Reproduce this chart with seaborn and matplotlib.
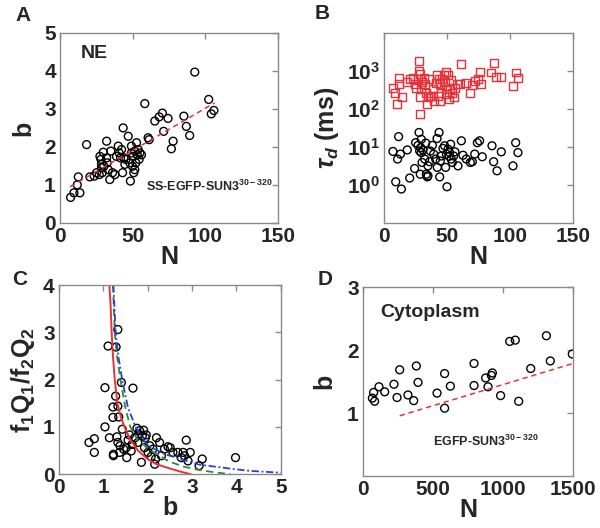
import numpy as np
import pandas as pd
import matplotlib
matplotlib.use("Agg")
import matplotlib.pyplot as plt
import seaborn as sns
from matplotlib.ticker import FixedLocator, NullLocator

# Panel A: NE, b vs N
ne_n = [7.3, 9.6, 13.7, 11.9, 12.6, 18.3, 20.6, 23.6, 25.2, 27.0, 27.5, 28.2, 28.6, 28.6, 29.1,
        29.8, 30.2, 32.1, 32.1, 32.5, 33.2, 34.3, 35.0, 36.2, 37.8, 38.9, 40.1, 40.8, 41.7, 42.4,
        43.1, 43.5, 44.0, 44.7, 45.4, 47.0, 48.1, 48.5, 49.2, 49.2, 49.9, 50.4, 50.8, 51.5, 51.5,
        52.2, 52.7, 53.2, 53.8, 54.5, 55.0, 56.1, 58.4, 60.7, 61.4, 65.3, 68.3, 70.5, 71.4, 74.4,
        76.7, 77.9, 85.3, 87.0, 89.3, 92.8, 102.4, 104.2, 106.0]
ne_b = [0.67, 0.79, 0.79, 1.00, 1.21, 2.06, 1.21, 1.23, 1.32, 1.27, 1.75, 1.67, 1.54, 1.45, 1.32,
        1.86, 1.49, 2.15, 1.71, 1.58, 1.40, 1.14, 1.89, 1.32, 1.27, 1.75, 2.02, 1.84, 1.71, 1.93,
        1.32, 2.50, 1.71, 1.54, 1.67, 2.28, 1.58, 1.10, 2.02, 1.84, 1.49, 1.75, 1.32, 1.89, 1.40,
        1.58, 2.11, 1.79, 1.93, 1.67, 1.84, 1.79, 3.14, 2.24, 2.19, 2.68, 2.79, 2.89, 2.41, 2.75,
        1.95, 2.15, 2.81, 2.54, 2.30, 3.97, 3.25, 2.87, 2.96]
ne_fit_n = [7.0, 106.5]
ne_fit_b = [0.95, 3.16]

# Panel B: tau_d (ms) vs N, log10 values
slow_n = [7.1, 9.0, 10.3, 11.9, 11.9, 14.3, 18.3, 20.4, 22.8, 24.3, 25.7, 27.0, 27.5, 27.8, 28.3,
          28.8, 28.8, 29.6, 30.4, 31.5, 32.3, 33.1, 34.1, 34.9, 35.7, 36.2, 37.6, 38.9, 39.7, 41.0,
          42.1, 42.9, 43.7, 44.2, 44.7, 45.5, 46.3, 47.4, 48.1, 48.9, 49.5, 50.3, 51.1, 51.6, 52.6,
          53.4, 54.2, 55.3, 56.1, 57.9, 60.1, 61.4, 65.3, 68.5, 70.1, 72.0, 74.6, 76.5, 77.2, 85.2,
          87.0, 89.2, 93.1, 102.4, 104.5, 106.3]
slow_logtau = [2.56, 2.43, 2.14, 2.82, 2.65, 2.32, 2.72, 2.78, 2.82, 2.65, 2.54, 2.78, 3.26, 3.00, 1.86,
               2.32, 2.91, 2.56, 2.72, 2.82, 2.65, 2.43, 2.12, 2.30, 2.78, 2.34, 2.34, 2.52, 2.21, 2.69,
               2.89, 2.34, 2.78, 2.21, 2.65, 2.43, 2.79, 2.89, 2.70, 2.97, 2.52, 2.39, 2.89, 2.25, 2.52,
               2.76, 2.43, 2.30, 2.56, 2.65, 2.65, 3.18, 2.69, 2.43, 2.62, 2.74, 2.78, 2.97, 2.65, 2.96,
               3.22, 2.85, 2.85, 2.61, 2.96, 2.81]
fast_n = [7.1, 9.3, 10.8, 11.6, 13.0, 13.8, 18.5, 20.4, 24.3, 25.1, 27.0, 27.8, 28.3, 29.1, 28.8,
          29.6, 29.6, 30.2, 30.9, 32.3, 33.1, 33.6, 34.4, 34.9, 34.9, 36.2, 36.8, 38.4, 39.4, 41.0,
          42.1, 42.3, 43.7, 44.2, 44.7, 45.5, 46.8, 48.1, 48.9, 49.5, 50.0, 50.8, 51.6, 52.1, 52.9,
          53.4, 54.2, 55.3, 56.3, 58.7, 61.4, 62.7, 65.3, 68.5, 70.1, 72.0, 74.1, 75.9, 78.0, 85.7,
          87.0, 89.7, 93.1, 102.4, 104.5, 106.3]
fast_logtau = [0.88, 0.08, 0.68, 1.27, 0.81, -0.11, 0.92, 0.18, 0.43, 1.11, 1.04, 1.38, 0.89, 0.98, 0.28,
               1.20, 0.85, 0.59, 0.92, 0.68, 1.10, 0.28, 0.21, 0.24, 0.50, 0.61, 0.89, 1.04, 0.81, 0.68,
               1.22, 0.46, 1.38, 0.21, 0.63, 0.76, 0.96, 1.03, 0.46, 0.81, -0.05, 0.94, 0.75, 0.85, 1.07,
               0.68, 0.59, 0.76, 0.87, 0.50, 1.16, 0.78, 0.68, 0.59, 0.61, 0.81, 1.11, 1.16, 0.74, 1.03,
               0.61, 0.37, 0.87, 0.50, 1.11, 0.85]

# Panel C: f1Q1/f2Q2 vs b
ratio_b = [0.68, 0.80, 0.80, 1.04, 1.04, 1.11, 1.14, 1.22, 1.22, 1.23, 1.23, 1.28, 1.29, 1.31, 1.33,
           1.33, 1.33, 1.35, 1.37, 1.38, 1.41, 1.43, 1.46, 1.52, 1.53, 1.56, 1.59, 1.63, 1.65, 1.67,
           1.71, 1.76, 1.78, 1.80, 1.82, 1.86, 1.88, 1.91, 1.93, 1.95, 1.97, 2.01, 2.05, 2.08, 2.12,
           2.16, 2.18, 2.20, 2.27, 2.31, 2.38, 2.46, 2.51, 2.57, 2.68, 2.76, 2.80, 2.83, 2.87, 2.91,
           2.96, 3.16, 3.23, 3.98]
ratio_val = [0.67, 0.75, 0.46, 1.83, 1.00, 2.71, 0.77, 1.20, 1.42, 0.42, 0.39, 1.65, 2.69, 0.79, 3.06,
             0.67, 1.44, 1.21, 0.46, 0.60, 1.94, 0.95, 0.53, 0.56, 0.35, 0.72, 0.83, 0.49, 0.63, 1.82,
             0.77, 0.97, 0.67, 0.85, 0.92, 0.25, 0.81, 0.93, 0.56, 0.77, 0.83, 0.46, 0.60, 0.37, 0.53,
             0.21, 0.32, 0.77, 0.67, 0.39, 0.53, 0.58, 0.56, 0.46, 0.46, 0.35, 0.46, 0.39, 0.72, 0.28,
             0.46, 0.18, 0.32, 0.35]
model_red_b = [1.14, 1.17, 1.19, 1.22, 1.26, 1.32, 1.40, 1.48, 1.60, 1.78, 2.00, 2.20, 2.50, 2.75, 2.97]
model_red_r = [4.00, 3.50, 3.00, 2.50, 2.00, 1.50, 1.20, 1.00, 0.75, 0.50, 0.32, 0.21, 0.12, 0.05, 0.00]
model_green_b = [1.22, 1.26, 1.31, 1.40, 1.50, 1.61, 1.80, 2.12, 2.50, 2.85, 3.18, 3.50, 3.87]
model_green_r = [4.00, 3.00, 2.50, 1.93, 1.40, 1.00, 0.70, 0.47, 0.26, 0.15, 0.085, 0.04, 0.00]
model_blue_b = [1.23, 1.28, 1.34, 1.44, 1.56, 1.73, 1.88, 2.05, 2.40, 2.80, 3.17, 3.55, 3.92, 4.30, 5.00]
model_blue_r = [4.00, 3.00, 2.50, 1.93, 1.40, 1.00, 0.75, 0.58, 0.42, 0.30, 0.20, 0.155, 0.11, 0.07, 0.03]

# Panel D: cytoplasm, b vs N
cy_n = [67, 76, 83, 114, 155, 221, 243, 262, 321, 362, 381, 393, 529, 583, 583, 624, 793, 793,
        876, 893, 917, 924, 983, 1048, 1088, 1112, 1198, 1310, 1338, 1495]
cy_b = [1.24, 1.33, 1.19, 1.42, 1.34, 1.46, 1.25, 1.69, 1.29, 1.20, 1.75, 1.49, 1.32, 1.63, 1.08,
        1.43, 1.79, 1.44, 1.56, 1.42, 1.60, 1.64, 1.28, 2.14, 2.16, 1.19, 1.71, 2.23, 1.83, 1.94]
cy_fit_n = [262, 1500]
cy_fit_b = [0.96, 1.79]

sns.set_theme(style="white")
plt.rcParams['font.family'] = ['Liberation Sans', 'DejaVu Sans']
plt.rcParams['mathtext.fontset'] = 'custom'
plt.rcParams['mathtext.rm'] = 'Liberation Sans:bold'
plt.rcParams['mathtext.it'] = 'Liberation Sans:italic:bold'
plt.rcParams['mathtext.bf'] = 'Liberation Sans:bold'

fig = plt.figure(figsize=(6, 5.28), dpi=100)
axA = fig.add_axes([0.100, 0.578, 0.363, 0.3595])
axB = fig.add_axes([0.640, 0.578, 0.315, 0.3595])
axC = fig.add_axes([0.098, 0.102, 0.370, 0.358])
axD = fig.add_axes([0.605, 0.098, 0.350, 0.358])

grey = '#8a8a8a'
red = '#e8323a'
circ = dict(marker='o', facecolor='none', edgecolor='black', linewidth=1.0, s=32, legend=False)


def style(ax):
    for sp in ax.spines.values():
        sp.set_color(grey)
        sp.set_linewidth(1.0)
    ax.tick_params(direction='in', length=4, width=1, color=grey, top=True, right=True,
                   labelsize=15, pad=3)
    for lab in ax.get_xticklabels() + ax.get_yticklabels():
        lab.set_fontweight('bold')
    ax.xaxis.label.set_size(18)
    ax.yaxis.label.set_size(18)
    ax.xaxis.label.set_weight('bold')
    ax.yaxis.label.set_weight('bold')


# A
sns.scatterplot(x=ne_n, y=ne_b, ax=axA, **circ)
sns.lineplot(x=ne_fit_n, y=ne_fit_b, ax=axA, color=red, linestyle=(0, (3.5, 2.5)), linewidth=1.1)
axA.set_xlim(0, 150)
axA.set_ylim(0, 5)
axA.set_xticks([0, 50, 100, 150])
axA.set_yticks([0, 1, 2, 3, 4, 5])
axA.set_xlabel('N', labelpad=-1)
axA.set_ylabel('b', labelpad=6)
axA.text(14, 4.45, 'NE', fontsize=14, fontweight='bold', ha='left', va='center')
axA.text(59, 0.95, r'SS-EGFP-SUN3$^{30-320}$', fontsize=9, fontweight='bold', ha='left', va='center')
style(axA)

# B
sns.scatterplot(x=slow_n, y=10 ** np.array(slow_logtau), ax=axB, marker='s', facecolor='none',
                edgecolor=red, linewidth=1.0, s=32, legend=False)
sns.scatterplot(x=fast_n, y=10 ** np.array(fast_logtau), ax=axB, **circ)
axB.set_yscale('log')
axB.set_xlim(0, 150)
axB.set_ylim(0.1, 1e4)
axB.set_xticks([0, 50, 100, 150])
axB.yaxis.set_major_locator(FixedLocator([1, 10, 100, 1000]))
axB.yaxis.set_minor_locator(NullLocator())
axB.set_yticklabels([r'$\mathbf{10^0}$', r'$\mathbf{10^1}$', r'$\mathbf{10^2}$', r'$\mathbf{10^3}$'])
axB.set_xlabel('N', labelpad=-1)
axB.set_ylabel(r'$\tau_d$ (ms)', labelpad=4)
style(axB)

# C
sns.scatterplot(x=ratio_b, y=ratio_val, ax=axC, **circ)
sns.lineplot(x=model_red_b, y=model_red_r, ax=axC, color=red, linewidth=1.4, sort=False)
sns.lineplot(x=model_green_b, y=model_green_r, ax=axC, color='#2e8b2e', linestyle=(0, (4, 2.5)),
             linewidth=1.3, sort=False)
sns.lineplot(x=model_blue_b, y=model_blue_r, ax=axC, color='#2a3ed6', linestyle=(0, (4, 1.5, 1, 1.5)),
             linewidth=1.3, sort=False)
axC.set_xlim(0, 5)
axC.set_ylim(0, 4)
axC.set_xticks([0, 1, 2, 3, 4, 5])
axC.set_yticks([0, 1, 2, 3, 4])
axC.set_xlabel('b', labelpad=-1)
axC.set_ylabel(r'f$_1$Q$_1$/f$_2$Q$_2$', labelpad=4)
style(axC)

# D
sns.scatterplot(x=cy_n, y=cy_b, ax=axD, **circ)
sns.lineplot(x=cy_fit_n, y=cy_fit_b, ax=axD, color=red, linestyle=(0, (3.5, 2.5)), linewidth=1.1)
axD.set_xlim(0, 1500)
axD.set_ylim(0, 3)
axD.set_xticks([0, 500, 1000, 1500])
axD.set_yticks([1, 2, 3])
axD.set_xlabel('N', labelpad=-1)
axD.set_ylabel('b', labelpad=8)
axD.text(120, 2.6, 'Cytoplasm', fontsize=14, fontweight='bold', ha='left', va='center')
axD.text(500, 0.55, r'EGFP-SUN3$^{30-320}$', fontsize=9, fontweight='bold', ha='left', va='center')
style(axD)

# panel letters
for lab, x, y in [('A', 0.025, 0.97), ('B', 0.525, 0.975), ('C', 0.02, 0.47), ('D', 0.53, 0.47)]:
    fig.text(x, y, lab, fontsize=15, fontweight='bold', ha='left', va='center')

fig.savefig('out.png', dpi=100)
